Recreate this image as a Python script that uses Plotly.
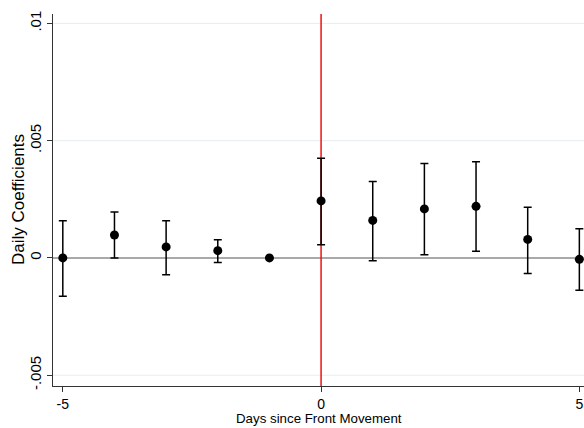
import plotly.graph_objects as go

days = [-5, -4, -3, -2, -1, 0, 1, 2, 3, 4, 5]
coef = [0.0, 0.00098, 0.00047, 0.00031, 0.0, 0.00243, 0.0016, 0.00209, 0.0022, 0.00079, -0.00006]
ci_hi = [0.00159, 0.00196, 0.00159, 0.00077, 0.0, 0.00425, 0.00326, 0.00403, 0.0041, 0.00216, 0.00124]
ci_lo = [-0.00163, 0.0, -0.00072, -0.00019, 0.0, 0.00056, -0.00012, 0.00014, 0.00028, -0.00066, -0.00138]

y_ticks = [-0.005, 0, 0.005, 0.01]
y_tick_labels = ["-.005", "0", ".005", ".01"]
x_ticks = [-5, 0, 5]
x_tick_labels = ["-5", "0", "5"]

err_plus = [h - c for h, c in zip(ci_hi, coef)]
err_minus = [c - l for c, l in zip(coef, ci_lo)]

FONT = "Liberation Sans, Arial, sans-serif"
W, H = 584, 428
L, R, T, B = 53, 0, 14, 42

fig = go.Figure()

# light grid lines (drawn as shapes so the zero line stays on top of them)
for yv in y_ticks:
    if yv != 0:
        fig.add_hline(y=yv, line=dict(color="#e6eef0", width=1), layer="below")
fig.add_hline(y=0, line=dict(color="#8c8c8c", width=1.5), layer="below")
fig.add_shape(type="line", xref="x", yref="y domain", x0=0, x1=0, y0=0, y1=1,
              line=dict(color="#ee1111", width=1.5), layer="below")

fig.add_trace(go.Scatter(
    x=days, y=coef, mode="markers",
    marker=dict(color="black", size=9),
    error_y=dict(type="data", symmetric=False, array=err_plus, arrayminus=err_minus,
                 color="black", thickness=1.5, width=4),
    cliponaxis=False,
    showlegend=False,
))

pw = W - L - R
ph = H - T - B

fig.add_annotation(text="Days since Front Movement", xref="paper", yref="paper",
                   x=0.5, y=(H - B - 419) / ph, xanchor="center", yanchor="middle",
                   showarrow=False, font=dict(size=13.3, family=FONT, color="black"))
fig.add_annotation(text="Daily Coefficients", xref="paper", yref="paper",
                   x=(18 - L) / pw, y=0.5, xanchor="center", yanchor="middle",
                   textangle=-90, showarrow=False,
                   font=dict(size=17, family=FONT, color="black"))

fig.update_layout(
    width=W, height=H,
    margin=dict(l=L, r=R, t=T, b=B, autoexpand=False),
    paper_bgcolor="white", plot_bgcolor="white",
    font=dict(family=FONT, color="black"),
    xaxis=dict(
        range=[-5.19, 5.09], tickvals=x_ticks, ticktext=x_tick_labels,
        showgrid=False, zeroline=False, showline=True, linecolor="#333", linewidth=1.2,
        ticks="outside", ticklen=5, tickcolor="#333", tickfont=dict(size=14),
        automargin=False,
    ),
    yaxis=dict(
        range=[-0.00546, 0.0104], tickvals=y_ticks, ticktext=y_tick_labels,
        tickangle=-90,
        showgrid=False, zeroline=False,
        showline=True, linecolor="#333", linewidth=1.2,
        ticks="outside", ticklen=5, tickcolor="#333", tickfont=dict(size=15),
        automargin=False,
    ),
)

fig.write_html("out.html", config={"displayModeBar": False},
               post_script="document.body.style.margin='0';document.body.style.overflow='hidden';")
